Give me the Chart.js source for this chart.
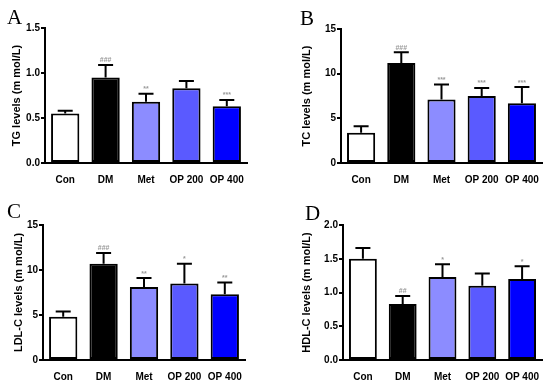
<!DOCTYPE html>
<html lang="en">
<head>
  <meta charset="UTF-8" />
  <title>Lipid levels</title>
  <script src="https://cdn.jsdelivr.net/npm/chart.js"></script>
  <style>
    body {
      margin: 0;
      background: #fff;
    }
    .wrap {
      position: relative;
      width: 550px;
      height: 380px;
    }
    .wrap canvas {
      position: absolute;
    }
    .letter {
      position: absolute;
      font-family: "Liberation Serif", "Times New Roman", serif;
      font-size: 21px;
      line-height: 1;
      color: #000;
    }
  </style>
</head>
<body>

<div class="wrap">
  <canvas id="chartA" width="275" height="190" style="left:0;top:0"></canvas>
  <canvas id="chartB" width="275" height="190" style="left:275px;top:0"></canvas>
  <canvas id="chartC" width="275" height="190" style="left:0;top:190px"></canvas>
  <canvas id="chartD" width="275" height="190" style="left:275px;top:190px"></canvas>
  <div class="letter" style="left:7px;top:7px">A</div>
  <div class="letter" style="left:300px;top:8px">B</div>
  <div class="letter" style="left:7px;top:201px">C</div>
  <div class="letter" style="left:305px;top:203px">D</div>
</div>

<script>
  const groups = ['Con', 'DM', 'Met', 'OP 200', 'OP 400'];
  const fills = ['#ffffff', '#000000', '#8c8cff', '#5a5aff', '#0000ff'];

  // TG
  const tgMean = [0.55, 0.95, 0.68, 0.83, 0.63];
  const tgErr = [0.03, 0.14, 0.09, 0.08, 0.07];
  const tgMarks = ['', '###', '**', '', '***'];
  const tgTicks = [0, 0.5, 1.0, 1.5];
  const tgTickLabels = ['0.0', '0.5', '1.0', '1.5'];

  // TC
  const tcMean = [3.4, 11.2, 7.1, 7.5, 6.7];
  const tcErr = [0.7, 1.2, 1.7, 0.9, 1.8];
  const tcMarks = ['', '###', '***', '***', '***'];
  const tcTicks = [0, 5, 10, 15];
  const tcTickLabels = ['0', '5', '10', '15'];

  // LDL-C
  const ldlMean = [4.8, 10.7, 8.1, 8.5, 7.3];
  const ldlErr = [0.6, 1.2, 1.0, 2.2, 1.3];
  const ldlMarks = ['', '###', '**', '*', '**'];
  const ldlTicks = [0, 5, 10, 15];
  const ldlTickLabels = ['0', '5', '10', '15'];

  // HDL-C
  const hdlMean = [1.50, 0.83, 1.23, 1.10, 1.20];
  const hdlErr = [0.16, 0.12, 0.19, 0.18, 0.19];
  const hdlMarks = ['', '##', '*', '', '*'];
  const hdlTicks = [0, 0.5, 1.0, 1.5, 2.0];
  const hdlTickLabels = ['0.0', '0.5', '1.0', '1.5', '2.0'];

  Chart.defaults.font.family = '"Liberation Sans", Arial, sans-serif';
  Chart.defaults.color = '#000';

  // error bars (upper only) and the significance marks above them
  const errorBars = {
    id: 'errorBars',
    afterDatasetsDraw(chart, args, opts) {
      const ctx = chart.ctx;
      const y = chart.scales.y;
      const meta = chart.getDatasetMeta(0);
      ctx.save();
      meta.data.forEach((bar, i) => {
        const top = y.getPixelForValue(opts.mean[i] + opts.err[i]);
        ctx.strokeStyle = '#000';
        ctx.lineWidth = 2;
        ctx.beginPath();
        ctx.moveTo(bar.x, bar.y);
        ctx.lineTo(bar.x, top);
        ctx.moveTo(bar.x - 7.5, top);
        ctx.lineTo(bar.x + 7.5, top);
        ctx.stroke();
        if (opts.marks[i]) {
          ctx.fillStyle = '#9a9a9a';
          ctx.font = 'bold 7px "Liberation Sans", Arial, sans-serif';
          ctx.textAlign = 'center';
          ctx.textBaseline = 'bottom';
          ctx.fillText(opts.marks[i], bar.x, top - 1);
        }
      });
      ctx.restore();
    }
  };

  function makePanel(id, title, mean, err, marks, ticks, tickLabels, box) {
    return new Chart(document.getElementById(id), {
      type: 'bar',
      data: {
        labels: groups,
        datasets: [{
          data: mean,
          backgroundColor: fills,
          borderColor: '#000',
          borderWidth: 2,
          borderSkipped: false,
          barPercentage: 0.7,
          categoryPercentage: 1.0
        }]
      },
      options: {
        responsive: false,
        animation: false,
        devicePixelRatio: 1,
        layout: { padding: { left: box.left, top: box.top, right: box.right, bottom: 0 } },
        plugins: {
          legend: { display: false },
          tooltip: { enabled: false },
          errorBars: { mean: mean, err: err, marks: marks }
        },
        scales: {
          x: {
            grid: { display: false },
            border: { display: true, color: '#000', width: 2 },
            ticks: { font: { size: 10, weight: 'bold' }, padding: 3, maxRotation: 0 },
            afterFit(scale) { scale.height = 190 - box.bottom; }
          },
          y: {
            min: ticks[0],
            max: ticks[ticks.length - 1],
            grid: { drawOnChartArea: false, drawTicks: true, tickLength: 4, color: '#000', lineWidth: 2 },
            border: { display: true, color: '#000', width: 2 },
            ticks: {
              font: { size: 10, weight: 'bold' },
              padding: 1,
              callback: (v, i) => tickLabels[i]
            },
            afterBuildTicks(scale) { scale.ticks = ticks.map(v => ({ value: v })); },
            title: {
              display: true,
              text: title,
              font: { size: 11, weight: 'bold' },
              padding: 0
            },
            afterFit(scale) { scale.width = box.axis - box.left; }
          }
        }
      },
      plugins: [errorBars]
    });
  }

  makePanel('chartA', 'TG levels (m mol/L)', tgMean, tgErr, tgMarks, tgTicks, tgTickLabels,
    { left: 10, axis: 45, top: 28, right: 28, bottom: 163 });
  makePanel('chartB', 'TC levels (m mol/L)', tcMean, tcErr, tcMarks, tcTicks, tcTickLabels,
    { left: 25, axis: 66, top: 29, right: 8, bottom: 163 });
  makePanel('chartC', 'LDL-C levels (m mol/L)', ldlMean, ldlErr, ldlMarks, ldlTicks, ldlTickLabels,
    { left: 12, axis: 43, top: 35, right: 30, bottom: 170 });
  makePanel('chartD', 'HDL-C levels (m mol/L)', hdlMean, hdlErr, hdlMarks, hdlTicks, hdlTickLabels,
    { left: 25, axis: 68, top: 35, right: 8, bottom: 170 });
</script>
</body>
</html>
